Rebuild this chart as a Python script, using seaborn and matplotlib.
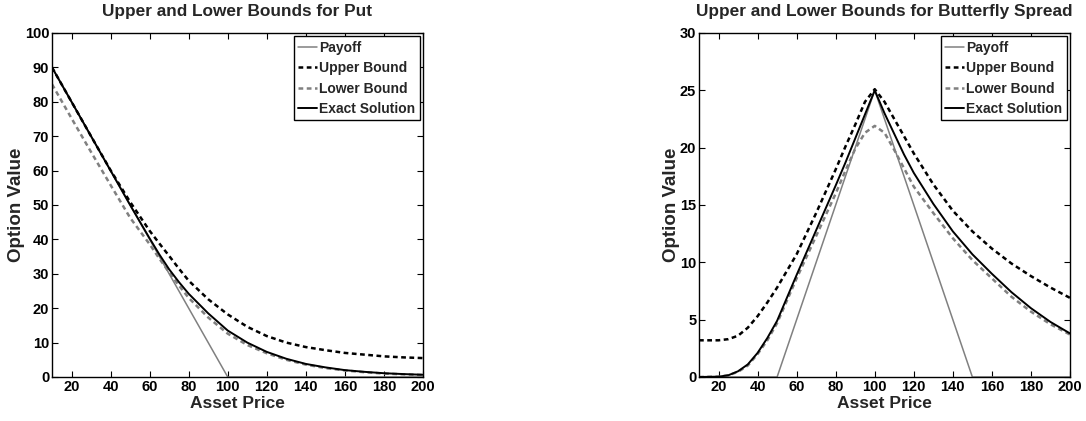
import numpy as np
import pandas as pd
import matplotlib
matplotlib.use("Agg")
import matplotlib.pyplot as plt
import seaborn as sns

# ---------------- data ----------------
put_payoff_S = [10, 100, 200]
put_payoff_V = [90, 0, 0]

put_S = [10, 20, 30, 40, 50, 60, 65, 70, 75, 80, 90, 100, 110, 120, 130, 140, 150, 160, 170, 180, 190, 200]
put_upper = [90, 80, 70, 60.1, 50.9, 42.5, 38.8, 35.2, 31.5, 28.0, 22.6, 18.2, 14.6, 11.9, 10.0, 8.7, 7.8, 7.0, 6.5, 6.0, 5.7, 5.5]
put_lower = [85.1, 75.2, 65.4, 55.8, 46.3, 38.6, 34.4, 30.4, 26.6, 23.0, 17.3, 12.6, 9.3, 6.9, 5.0, 3.6, 2.6, 1.9, 1.4, 1.0, 0.78, 0.6]
put_exact = [90, 80, 70, 60, 50, 40.3, 35.6, 31.3, 27.6, 24.2, 18.5, 13.5, 10.0, 7.3, 5.3, 3.8, 2.8, 2.0, 1.5, 1.1, 0.85, 0.65]

bf_payoff_S = [10, 50, 100, 150, 200]
bf_payoff_V = [0, 0, 25, 0, 0]

bf_S = [10, 20, 25, 30, 35, 40, 45, 50, 60, 70, 80, 85, 90, 95, 100, 105, 110, 115, 120, 130, 140, 150, 160, 170, 180, 190, 200]
bf_upper = [3.2, 3.2, 3.3, 3.6, 4.3, 5.3, 6.5, 7.8, 10.7, 14.3, 18.1, 20.1, 22.0, 24.0, 25.1, 24.0, 22.5, 21.0, 19.5, 16.8, 14.5, 12.7, 11.2, 9.9, 8.8, 7.8, 6.9]
bf_lower = [0, 0.03, 0.15, 0.45, 1.0, 2.0, 3.2, 4.7, 8.6, 12.3, 16.0, 18.0, 19.9, 21.3, 21.9, 21.3, 19.8, 18.2, 16.6, 14.3, 12.1, 10.2, 8.6, 7.0, 5.7, 4.6, 3.7]
bf_exact = [0, 0.03, 0.15, 0.5, 1.1, 2.1, 3.4, 4.9, 8.9, 12.8, 16.7, 18.7, 20.8, 22.9, 25.0, 23.0, 21.2, 19.4, 17.8, 15.1, 12.7, 10.7, 9.0, 7.4, 6.0, 4.8, 3.8]

labels = ["Payoff", "Upper Bound", "Lower Bound", "Exact Solution"]
put_title = "Upper and Lower Bounds for Put"
bf_title = "Upper and Lower Bounds for Butterfly Spread"
x_ticks = [20, 40, 60, 80, 100, 120, 140, 160, 180, 200]
put_yticks = [0, 10, 20, 30, 40, 50, 60, 70, 80, 90, 100]
bf_yticks = [0, 5, 10, 15, 20, 25, 30]

# ---------------- style ----------------
sns.set_theme(style="white")
plt.rcParams.update({
    "font.family": ["Liberation Sans", "DejaVu Sans"],
    "font.weight": "bold",
    "axes.labelweight": "bold",
    "axes.titleweight": "bold",
    "xtick.direction": "in",
    "ytick.direction": "in",
    "xtick.top": True,
    "ytick.right": True,
    "xtick.bottom": True,
    "ytick.left": True,
    "xtick.major.size": 4.5,
    "ytick.major.size": 4.5,
    "xtick.major.width": 0.8,
    "ytick.major.width": 0.8,
    "axes.edgecolor": "black",
    "axes.linewidth": 1.0,
    "xtick.color": "black",
    "ytick.color": "black",
})

GRAY = "#808080"
fig = plt.figure(figsize=(10.86, 4.21), dpi=100)
ax1 = fig.add_axes([52 / 1086, 44 / 421, 371 / 1086, 344 / 421])
ax2 = fig.add_axes([699 / 1086, 44 / 421, 371 / 1086, 344 / 421])


def draw(ax, pS, pV, S, up, lo, ex, yticks, ymax, title):
    sns.lineplot(x=pS, y=pV, ax=ax, color=GRAY, linewidth=1.1, label=labels[0])
    sns.lineplot(x=S, y=up, ax=ax, color="black", linewidth=1.8,
                 linestyle=(0, (1.9, 1.4)), label=labels[1])
    sns.lineplot(x=S, y=lo, ax=ax, color=GRAY, linewidth=1.8,
                 linestyle=(0, (1.9, 1.4)), label=labels[2])
    sns.lineplot(x=S, y=ex, ax=ax, color="black", linewidth=1.4, label=labels[3])
    ax.set_xlim(10, 200)
    ax.set_ylim(0, ymax)
    ax.set_xticks(x_ticks)
    ax.set_yticks(yticks)
    ax.tick_params(labelsize=10.5, pad=2)
    for t in ax.get_xticklabels() + ax.get_yticklabels():
        t.set_fontweight("bold")
    ax.set_xlabel("Asset Price", fontsize=12.5, fontweight="bold", labelpad=1.5)
    ax.set_ylabel("Option Value", fontsize=13.5, fontweight="bold", labelpad=0)
    ax.set_title(title, fontsize=12.4, fontweight="bold", pad=12)
    leg = ax.legend(loc="upper right", fontsize=10, frameon=True, fancybox=False,
                    framealpha=1, edgecolor="black", borderpad=0.3,
                    labelspacing=0.47, handlelength=1.4, handletextpad=0.15,
                    borderaxespad=0.25)
    leg.get_frame().set_linewidth(1.0)
    for t in leg.get_texts():
        t.set_fontweight("bold")
    for s in ax.spines.values():
        s.set_visible(True)
        s.set_color("black")


draw(ax1, put_payoff_S, put_payoff_V, put_S, put_upper, put_lower, put_exact,
     put_yticks, 100, put_title)
draw(ax2, bf_payoff_S, bf_payoff_V, bf_S, bf_upper, bf_lower, bf_exact,
     bf_yticks, 30, bf_title)

fig.savefig("out.png", dpi=100)
